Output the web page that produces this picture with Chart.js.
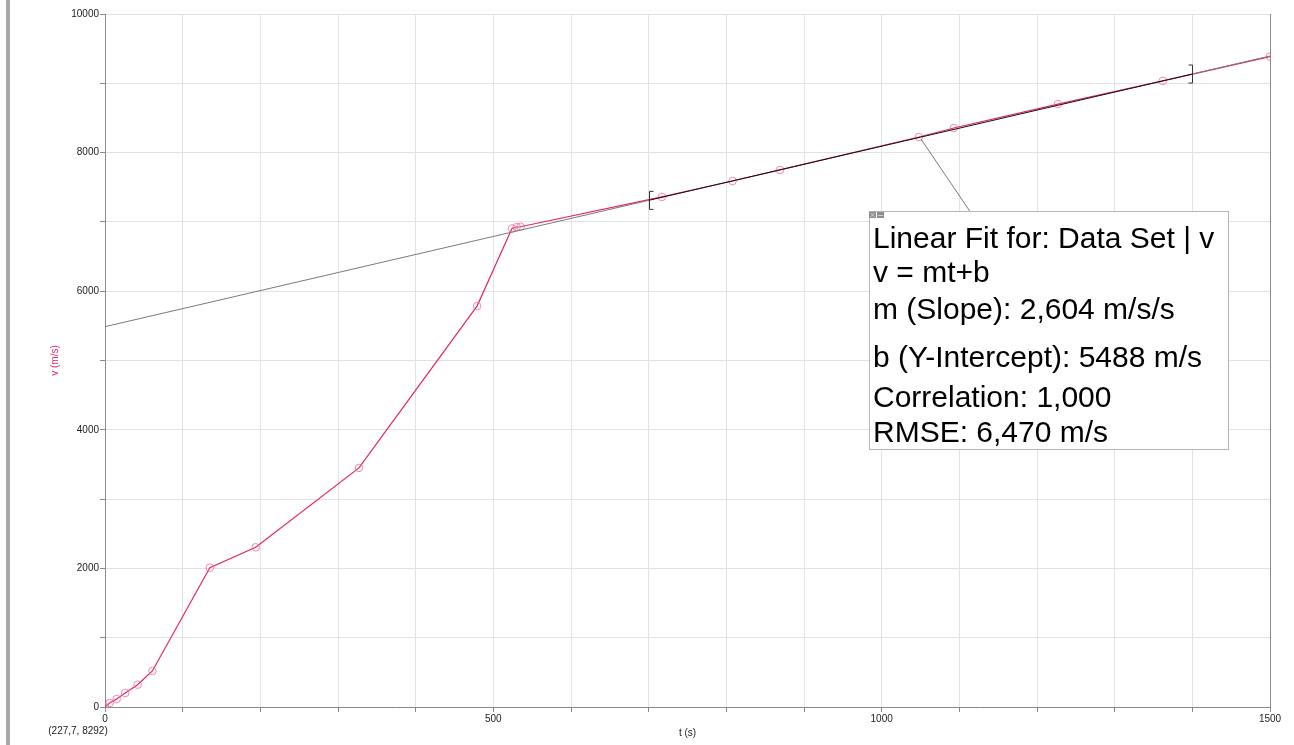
<!DOCTYPE html>
<html>
<head>
<meta charset="utf-8">
<script src="https://cdn.jsdelivr.net/npm/chart.js@4/dist/chart.umd.min.js"></script>
<style>
  html, body { margin: 0; padding: 0; background: #fff; }
  #wrap { position: relative; width: 1294px; height: 745px; }
  #sidebar { position: absolute; left: 6px; top: 0; width: 4px; height: 745px; background: #a9a9a9; }
  canvas { position: absolute; left: 0; top: 0; }
</style>
</head>
<body>
<div id="wrap">
  <div id="sidebar"></div>
  <canvas id="chart" width="1294" height="745"></canvas>
</div>
<script>
// Measured velocity data set
const times = [0, 6, 15, 26, 42, 61, 135, 194, 327, 479, 524, 530, 535, 717, 808, 869, 1048, 1093, 1227, 1362, 1500];
const velocities = [0, 58, 115, 202, 322, 520, 2010, 2305, 3450, 5785, 6905, 6925, 6930, 7360, 7590, 7750, 8225, 8355, 8700, 9035, 9385];

// Linear fit results
const fitSlope = 2.604;
const fitIntercept = 5488;
const fitRange = [700, 1400];
const fitDrawExtent = [0, 1500];
const fitLines = [
  'Linear Fit for: Data Set | v',
  'v = mt+b',
  'm (Slope): 2,604 m/s/s',
  'b (Y-Intercept): 5488 m/s',
  'Correlation: 1,000',
  'RMSE: 6,470 m/s'
];
const calloutIndex = 16;
const cursorReadout = '(227,7, 8292)';

// Axis setup
const xMin = 0, xMax = 1500, xStep = 100, xLabelEvery = 500;
const yMin = 0, yMax = 10000, yStep = 1000, yLabelEvery = 2000;

const FONT = '"Liberation Sans", Arial, sans-serif';
const PINK = '#e5265f';

const dataPoints = times.map((t, i) => ({ x: t, y: velocities[i] }));
const fitPoints = [fitDrawExtent[0], fitRange[0], fitRange[1], fitDrawExtent[1]]
  .map(t => ({ x: t, y: fitIntercept + fitSlope * t }));

const overlay = {
  id: 'overlay',
  afterDatasetsDraw(chart) {
    const { ctx, scales: { x, y } } = chart;
    ctx.save();

    // fit range brackets
    ctx.strokeStyle = '#333';
    ctx.lineWidth = 1;
    const drawBracket = (t, dir) => {
      const px = Math.round(x.getPixelForValue(t)) + 0.5;
      const py = y.getPixelForValue(fitIntercept + fitSlope * t);
      ctx.beginPath();
      ctx.moveTo(px + dir * 4, py - 9);
      ctx.lineTo(px, py - 9);
      ctx.lineTo(px, py + 9);
      ctx.lineTo(px + dir * 4, py + 9);
      ctx.stroke();
    };
    drawBracket(fitRange[0], 1);
    drawBracket(fitRange[1], -1);

    // callout box
    const bx = 869.5, by = 211.5, bw = 359, bh = 238;
    const cx = x.getPixelForValue(times[calloutIndex]);
    const cy = y.getPixelForValue(velocities[calloutIndex]);
    ctx.strokeStyle = '#777';
    ctx.beginPath();
    ctx.moveTo(cx + 2, cy + 2);
    ctx.lineTo(970, by);
    ctx.stroke();

    ctx.fillStyle = '#fff';
    ctx.fillRect(bx, by, bw, bh);
    ctx.strokeStyle = '#b5b5b5';
    ctx.strokeRect(bx, by, bw, bh);

    // small window buttons
    ctx.fillStyle = '#8c8c8c';
    ctx.fillRect(869, 212, 7, 6);
    ctx.fillRect(877, 212, 7, 6);
    ctx.strokeStyle = '#d0d0d0';
    ctx.beginPath();
    ctx.moveTo(870.5, 213); ctx.lineTo(874.5, 217);
    ctx.moveTo(874.5, 213); ctx.lineTo(870.5, 217);
    ctx.moveTo(878, 215.5); ctx.lineTo(883, 215.5);
    ctx.stroke();

    ctx.fillStyle = '#000';
    ctx.font = '30px ' + FONT;
    ctx.textAlign = 'left';
    ctx.textBaseline = 'alphabetic';
    const baselines = [248, 282, 319, 367, 407, 442];
    fitLines.forEach((s, i) => ctx.fillText(s, 873, baselines[i]));

    // cursor readout
    ctx.font = '10px ' + FONT;
    ctx.fillStyle = '#222';
    ctx.textAlign = 'center';
    ctx.textBaseline = 'middle';
    ctx.fillText(cursorReadout, 78, 731);

    ctx.restore();
  }
};

new Chart(document.getElementById('chart'), {
  type: 'scatter',
  data: {
    datasets: [
      {
        label: 'fit',
        type: 'line',
        data: fitPoints,
        order: 0,
        borderWidth: 1,
        pointRadius: 0,
        fill: false,
        borderColor: '#111',
        segment: {
          borderColor: c => (c.p0.parsed.x >= fitRange[0] && c.p1.parsed.x <= fitRange[1]) ? '#111' : '#7a7a7a'
        }
      },
      {
        label: 'v',
        data: dataPoints,
        order: 1,
        showLine: true,
        borderColor: PINK,
        borderWidth: 1.2,
        pointRadius: 3.8,
        pointBorderWidth: 1,
        pointBorderColor: 'rgba(238,110,150,0.8)',
        pointBackgroundColor: 'rgba(0,0,0,0)',
        fill: false
      }
    ]
  },
  options: {
    responsive: false,
    animation: false,
    events: [],
    layout: { padding: { left: 0, top: 14, right: 24, bottom: 0 } },
    plugins: { legend: { display: false }, tooltip: { enabled: false } },
    scales: {
      x: {
        type: 'linear',
        min: xMin, max: xMax,
        afterFit: s => { s.height = 38; },
        border: { color: '#8a8a8a', width: 1 },
        grid: {
          color: c => (c.tick && c.tick.value === xMax) ? '#8a8a8a' : '#e2e2e2',
          tickColor: '#8a8a8a',
          tickLength: 5,
          drawTicks: true
        },
        ticks: {
          stepSize: xStep,
          autoSkip: false,
          maxRotation: 0,
          padding: 1,
          color: '#222',
          font: { family: FONT, size: 10 },
          callback: v => (v % xLabelEvery === 0 ? String(v) : '')
        },
        title: {
          display: true,
          text: 't (s)',
          color: '#222',
          font: { family: FONT, size: 10 },
          padding: { top: 0, bottom: 6 }
        }
      },
      y: {
        type: 'linear',
        min: yMin, max: yMax,
        afterFit: s => { s.width = 105; },
        border: { color: '#8a8a8a', width: 1 },
        grid: {
          color: '#e2e2e2',
          tickColor: '#8a8a8a',
          tickLength: 5,
          drawTicks: true
        },
        ticks: {
          stepSize: yStep,
          autoSkip: false,
          padding: 1,
          color: '#222',
          font: { family: FONT, size: 10 },
          callback: v => (v % yLabelEvery === 0 ? String(v) : '')
        },
        title: {
          display: true,
          text: 'v (m/s)',
          color: PINK,
          font: { family: FONT, size: 10 },
          padding: { top: 49, bottom: 0 }
        }
      }
    }
  },
  plugins: [overlay]
});
</script>
</body>
</html>
